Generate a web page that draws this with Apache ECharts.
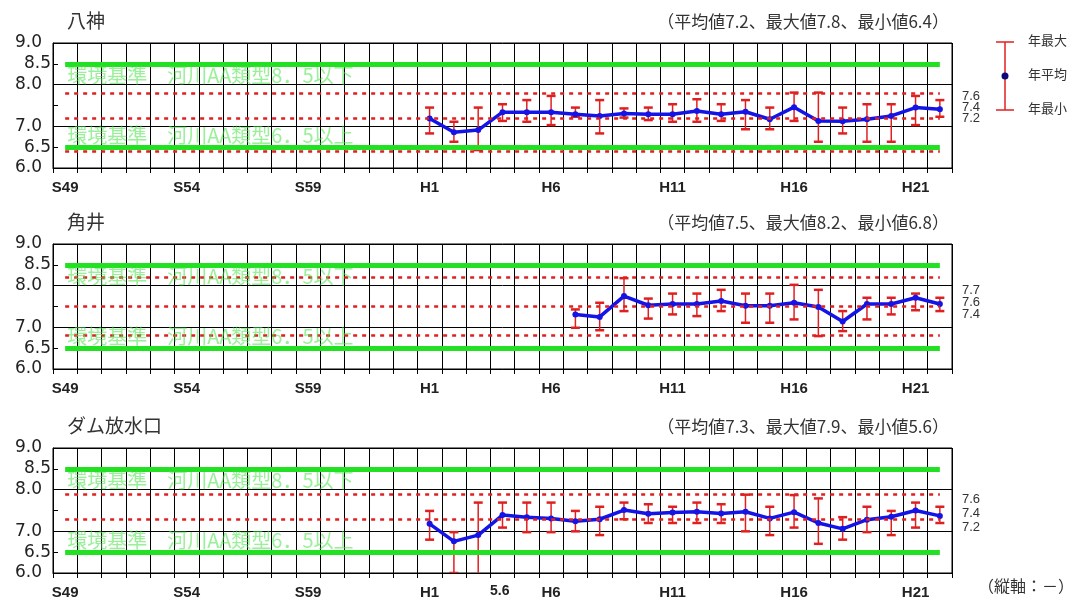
<!DOCTYPE html>
<html>
<head>
<meta charset="utf-8">
<script src="https://cdn.jsdelivr.net/npm/echarts@6/dist/echarts.min.js"></script>
<style>html,body{margin:0;padding:0;background:#fff}#c{width:1080px;height:600px}</style>
</head>
<body>
<div id="c"></div>
<script>
// ---------- data ----------
const categories = ['S49','S50','S51','S52','S53','S54','S55','S56','S57','S58','S59','S60','S61','S62','S63',
  'H1','H2','H3','H4','H5','H6','H7','H8','H9','H10','H11','H12','H13','H14','H15','H16','H17','H18','H19','H20','H21','H22'];
const heiseiYears = ['H1','H2','H3','H4','H5','H6','H7','H8','H9','H10','H11','H12','H13','H14','H15','H16','H17','H18','H19','H20','H21','H22'];

const stationNames = ['八神', '角井', 'ダム放水口'];
const summaryTexts = ['（平均値7.2、最大値7.8、最小値6.4）', '（平均値7.5、最大値8.2、最小値6.8）', '（平均値7.3、最大値7.9、最小値5.6）'];
const overallMean = [7.2, 7.5, 7.3];
const overallMax = [7.8, 8.2, 7.9];
const overallMin = [6.4, 6.8, 5.6];

// 八神
const yagamiMean = [7.19,6.86,6.91,7.34,7.34,7.34,7.29,7.25,7.31,7.29,7.29,7.37,7.29,7.35,7.17,7.46,7.13,7.12,7.17,7.25,7.45,7.41];
const yagamiMax  = [7.45,7.11,7.45,7.53,7.63,7.73,7.45,7.63,7.43,7.45,7.53,7.65,7.53,7.63,7.45,7.81,7.81,7.45,7.53,7.53,7.73,7.63];
const yagamiMin  = [6.83,6.63,6.43,7.13,7.11,7.03,7.23,6.83,7.21,7.15,7.11,7.11,7.13,6.93,6.93,7.13,6.63,6.83,6.63,6.63,7.03,7.23];
// 角井
const sumiiMean = [null,null,null,null,null,null,7.31,7.25,7.75,7.53,7.56,7.56,7.63,7.52,7.52,7.59,7.49,7.14,7.56,7.56,7.71,7.56];
const sumiiMax  = [null,null,null,null,null,null,7.43,7.59,8.18,7.69,7.81,7.81,7.90,7.81,7.81,8.02,7.90,7.39,7.71,7.71,7.81,7.71];
const sumiiMin  = [null,null,null,null,null,null,6.99,6.93,7.39,7.21,7.31,7.27,7.39,7.11,7.11,7.19,6.79,6.91,7.19,7.31,7.41,7.39];
// ダム放水口
const damMean = [7.18,6.76,6.91,7.39,7.34,7.31,7.24,7.29,7.51,7.42,7.45,7.47,7.43,7.47,7.31,7.46,7.20,7.06,7.28,7.35,7.50,7.37];
const damMax  = [7.49,6.98,7.69,7.69,7.69,7.69,7.49,7.59,7.69,7.65,7.59,7.69,7.65,7.88,7.59,7.87,7.79,7.34,7.59,7.49,7.69,7.59];
const damMin  = [6.80,6.00,5.60,7.09,6.98,6.98,7.00,6.91,7.29,7.20,7.20,7.20,7.20,7.00,6.91,7.09,6.70,6.80,6.98,6.91,7.09,7.20];

const standardUpper = 8.5, standardLower = 6.5;
const standardUpperText = '環境基準　河川AA類型8．5以下';
const standardLowerText = '環境基準　河川AA類型6．5以上';
const rightLabels = [['7.6','7.4','7.2'], ['7.7','7.6','7.4'], ['7.6','7.4','7.2']];
const legendTexts = ['年最大', '年平均', '年最小'];
const outOfRangeNote = '5.6';
const unitNote = '（縦軸：－）';
const yIndentLabels = ['8.5','6.5'];
const yHiddenLabels = ['7.5'];

const meanSets = [yagamiMean, sumiiMean, damMean];
const maxSets = [yagamiMax, sumiiMax, damMax];
const minSets = [yagamiMin, sumiiMin, damMin];

// ---------- layout ----------
const gridTops = [43, 244, 448];
const gridH = 125;
const JP = '"Noto Sans CJK JP", sans-serif';
const NUM = '"Liberation Sans Narrow", "Liberation Sans", sans-serif';
const RED = '#e02020';
const GREEN = '#22e022';
const BLUE = '#1414e6';

const chart = echarts.init(document.getElementById('c'), null, {renderer: 'canvas'});

const grids = [], xAxes = [], yAxes = [], series = [], titles = [], graphics = [];

for (let p = 0; p < 3; p++) {
  grids.push({left: 53, right: 128, top: gridTops[p], height: gridH, show: true, borderColor: '#000', borderWidth: 1, backgroundColor: '#fff'});
  xAxes.push({
    type: 'category', gridIndex: p, data: categories, boundaryGap: true,
    axisLine: {show: true, lineStyle: {color: '#000', width: 1}},
    axisTick: {show: true, interval: 0, length: 5, lineStyle: {color: '#000'}},
    axisLabel: {interval: 4, margin: 12, color: '#222', fontSize: 15, fontWeight: 'bold', fontFamily: NUM},
    splitLine: {show: true, interval: 0, lineStyle: {color: '#000', width: 1}}
  });
  yAxes.push({
    type: 'value', gridIndex: p, min: 6, max: 9, interval: 0.5,
    axisLine: {show: true, lineStyle: {color: '#000'}},
    axisTick: {show: true, inside: true, length: 5, lineStyle: {color: '#000'}},
    axisLabel: {
      margin: 2, color: '#222', fontSize: 17, fontFamily: '"DejaVu Sans", sans-serif',
      formatter: v => {
        const s = v.toFixed(1);
        if (yHiddenLabels.includes(s)) return '';
        if (yIndentLabels.includes(s)) return '{b|' + s + '}';
        return '{a|' + s + '}';
      },
      rich: {
        a: {padding: [0, 9, 0, 0], fontSize: 17, color: '#222', fontFamily: '"DejaVu Sans", sans-serif'},
        b: {fontSize: 17, color: '#222', fontFamily: '"DejaVu Sans", sans-serif'}
      }
    },
    splitLine: {show: true, lineStyle: {color: ['#000', 'rgba(0,0,0,0)'], width: 1}}
  });

  const first = categories[0], last = categories[categories.length - 1];
  const hLine = (v, style, label) => {
    const a = {coord: [first, v], lineStyle: style};
    if (label) a.label = label; else a.label = {show: false};
    return [a, {coord: [last, v]}];
  };
  const greenStyle = {color: GREEN, width: 5, type: 'solid'};
  const redStyle = {color: RED, width: 2.5, type: [4, 5]};
  const txtStyle = {color: 'rgba(70,228,70,0.55)', fontSize: 20, fontFamily: JP};

  series.push({
    type: 'line', xAxisIndex: p, yAxisIndex: p, data: [], z: 1, silent: true,
    markLine: {
      silent: true, symbol: 'none', animation: false,
      data: [
        hLine(standardUpper, greenStyle, Object.assign({show: true, position: 'insideStartBottom', distance: 2, formatter: standardUpperText}, txtStyle)),
        hLine(standardLower, greenStyle, Object.assign({show: true, position: 'insideStartTop', distance: 2, formatter: standardLowerText}, txtStyle)),
        hLine(overallMax[p], redStyle),
        hLine(overallMean[p], redStyle),
        hLine(overallMin[p], redStyle)
      ]
    }
  });

  const offset = categories.indexOf('H1');
  const meanData = categories.map(() => null);
  const errData = [];
  heiseiYears.forEach((y, i) => {
    const ci = offset + i;
    meanData[ci] = meanSets[p][i];
    if (maxSets[p][i] != null) errData.push([ci, maxSets[p][i], minSets[p][i]]);
  });

  series.push({
    type: 'custom', xAxisIndex: p, yAxisIndex: p, z: 2, clip: true, silent: true,
    data: errData,
    encode: {x: 0, y: [1, 2]},
    renderItem: (params, api) => {
      const top = api.coord([api.value(0), api.value(1)]);
      const bot = api.coord([api.value(0), api.value(2)]);
      const hw = 4.5;
      const st = {stroke: RED, lineWidth: 1.5};
      const cst = {stroke: RED, lineWidth: 2.5};
      return {
        type: 'group',
        children: [
          {type: 'line', shape: {x1: top[0], y1: top[1], x2: bot[0], y2: bot[1]}, style: st},
          {type: 'line', shape: {x1: top[0] - hw, y1: top[1], x2: top[0] + hw, y2: top[1]}, style: cst},
          {type: 'line', shape: {x1: bot[0] - hw, y1: bot[1], x2: bot[0] + hw, y2: bot[1]}, style: cst}
        ]
      };
    }
  });

  series.push({
    type: 'line', xAxisIndex: p, yAxisIndex: p, z: 3, silent: true,
    data: meanData, connectNulls: false,
    symbol: 'circle', symbolSize: 6, showSymbol: true,
    lineStyle: {color: BLUE, width: 3.5}, itemStyle: {color: BLUE}
  });

  titles.push({text: stationNames[p], left: 67, top: gridTops[p] - 32, padding: 0,
    textStyle: {fontSize: 19, fontWeight: 'normal', color: '#333', fontFamily: JP}});
  titles.push({text: summaryTexts[p], right: 131, top: gridTops[p] - 30, padding: 0,
    textStyle: {fontSize: 17, fontWeight: 'normal', color: '#333', fontFamily: JP}});

  const rl = rightLabels[p];
  const rlY = [[97, 108, 119], [291, 303, 315], [500, 514, 528]][p];
  rl.forEach((t, k) => {
    graphics.push({type: 'text', left: 962, top: rlY[k] - 7,
      style: {text: t, fontSize: 13, fill: '#333', font: '13px ' + NUM}});
  });
}

// legend
const lx = 1005, ly1 = 42, ly2 = 110, lym = 76;
graphics.push({type: 'line', shape: {x1: lx, y1: ly1, x2: lx, y2: ly2}, style: {stroke: RED, lineWidth: 1.5}});
graphics.push({type: 'line', shape: {x1: lx - 9, y1: ly1, x2: lx + 9, y2: ly1}, style: {stroke: RED, lineWidth: 1.5}});
graphics.push({type: 'line', shape: {x1: lx - 9, y1: ly2, x2: lx + 9, y2: ly2}, style: {stroke: RED, lineWidth: 1.5}});
graphics.push({type: 'circle', shape: {cx: lx, cy: lym, r: 3.5}, style: {fill: '#0a0a7a'}});
[ly1, lym, ly2].forEach((yy, k) => {
  graphics.push({type: 'text', left: 1028, top: yy - 8, style: {text: legendTexts[k], fill: '#333', font: '13px ' + JP}});
});
graphics.push({type: 'text', left: 490, top: 584, style: {text: outOfRangeNote, fill: '#222', font: 'bold 14px ' + NUM}});
graphics.push({type: 'text', right: 6, top: 578, style: {text: unitNote, fill: '#333', font: '16px ' + JP}});

chart.setOption({
  animation: false,
  backgroundColor: '#fff',
  title: titles,
  grid: grids,
  xAxis: xAxes,
  yAxis: yAxes,
  series: series,
  graphic: graphics
});
</script>
</body>
</html>
